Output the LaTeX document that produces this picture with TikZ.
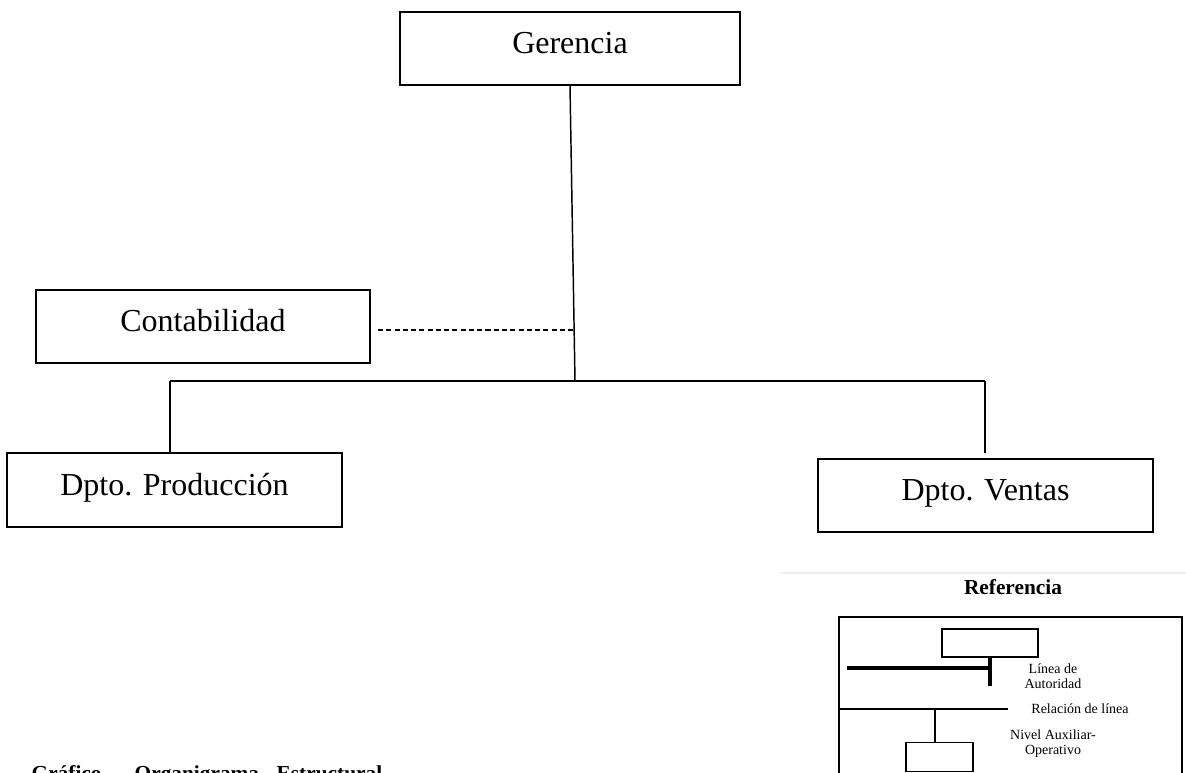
\documentclass[tikz,border=0pt]{standalone}
\usepackage{fontspec}
\setmainfont{Liberation Serif}
\begin{document}
\begin{tikzpicture}[x=0.75pt,y=-0.75pt,
  orgbox/.style={draw, line width=1.1pt, rectangle, inner sep=0pt,
    font=\fontsize{24}{28}\selectfont, text height=0.85em, text depth=0.05em},
  link/.style={line width=1.1pt},
  legbox/.style={draw, line width=0.8pt, inner sep=0pt},
  legline/.style={line width=0.8pt},
  authline/.style={line width=3.2pt},
  legtext/.style={font=\fontsize{10.5}{11.25}\selectfont, align=center},
  captext/.style={anchor=base west, font=\bfseries\fontsize{16}{18}\selectfont}]
\useasboundingbox (0,0) rectangle (1186,772);
\clip (0,0) rectangle (1186,772);

% main chart
\node[orgbox, minimum width=255pt, minimum height=54.75pt] (ger) at (570,48.5) {Gerencia};
\node[orgbox, minimum width=250.5pt, minimum height=54.75pt] (cont) at (203,326.5) {Contabilidad};
\node[orgbox, minimum width=251.25pt, minimum height=55.5pt] (prod) at (174.5,490) {Dpto. Producción};
\node[orgbox, minimum width=251.25pt, minimum height=54.75pt] (vent) at (985.5,495.5) {Dpto. Ventas};

\coordinate (j) at (575,381);
\coordinate (jl) at (170,381);
\coordinate (jr) at (985,381);
\coordinate (vr) at (985,453);
\coordinate (ds) at (378,330);
\coordinate (dm) at (573.5,330);

\draw[link] (ger.south) -- (j);
\draw[link] (jl) -- (jr);
\draw[link] (jl) -- (jl |- prod.north);
\draw[link] (jr) -- (vr);
\draw[link, dash pattern=on 3.8pt off 2.4pt] (ds) -- (dm);

% legend
\draw[gray!12, line width=1pt] (780,573) -- (1186,573);
\node[font=\bfseries\fontsize{16}{18}\selectfont] (reft) at (1013,587) {Referencia};
\draw[legline] (839,780) -- (839,617) -- (1182,617) -- (1182,780);
\node[legbox, minimum width=72pt, minimum height=21pt] (lb1) at (990,643) {};
\coordinate (ta) at (847,668);
\coordinate (tb) at (990,686);
\draw[authline] (ta) -- (lb1.south |- ta);
\draw[authline] (lb1.south) -- (tb);
\node[legtext] (lt1) at (1053,676) {Línea de\\Autoridad};

\coordinate (ra) at (839,709);
\coordinate (rb) at (1008,709);
\coordinate (rc) at (935,709);
\draw[legline] (ra) -- (rb);
\node[legbox, minimum width=50.25pt, minimum height=22pt] (lb2) at (939.5,757) {};
\draw[legline] (rc) -- (rc |- lb2.north);
\node[legtext] (lt2) at (1080,709) {Relación de línea};
\node[legtext] (lt3) at (1053,744) {Nivel Auxiliar-\\Operativo};

% caption (cut off at the bottom edge, as in the reference)
\node[captext] (c1) at (27,780) {Gráfico};
\node[captext] (c2) at (130,780) {Organigrama};
\node[captext] (c3) at (272,780) {Estructural};
\end{tikzpicture}
\end{document}
